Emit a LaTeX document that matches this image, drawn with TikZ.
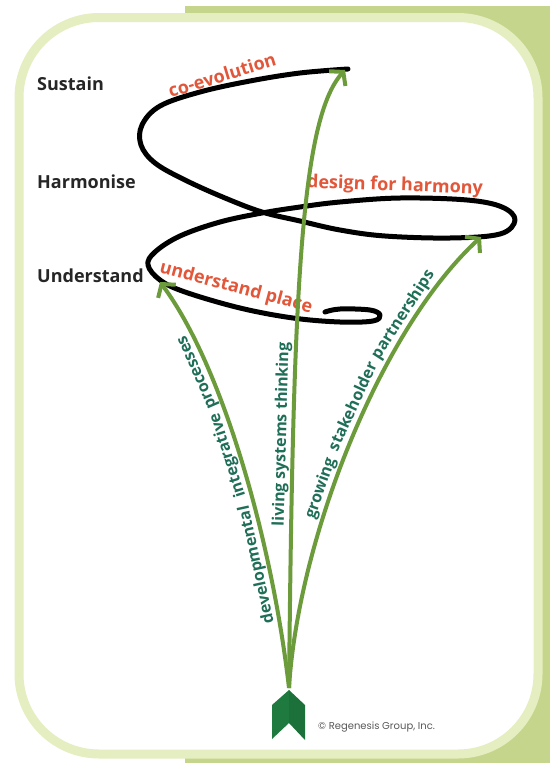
\documentclass[tikz,border=0pt]{standalone}
\usepackage{fontspec}
\setmainfont{Open Sans}
\newfontfamily\creditfont{Poppins}
\usepackage{xcolor}
\usetikzlibrary{arrows.meta}
\definecolor{band}{HTML}{C5D58C}
\definecolor{rim}{HTML}{E4EEC0}
\definecolor{shaft}{HTML}{6C9B3C}
\definecolor{pathlabel}{HTML}{1F6E57}
\definecolor{phase}{HTML}{E2563A}
\definecolor{feather}{HTML}{1E7A3E}

\begin{document}
\begin{tikzpicture}[x=1pt,y=-1pt]
\tikzset{stage/.style={anchor=west,inner sep=0pt,font=\bfseries\fontsize{18}{20}\selectfont,text=black!85}}
\tikzset{phase label/.style={inner sep=0pt,font=\bfseries\fontsize{18}{20}\selectfont,text=phase}}
\tikzset{path label/.style={sloped,allow upside down,anchor=south,inner sep=1pt,text height=12pt,text depth=4pt,font=\bfseries\fontsize{16}{18}\selectfont,text=pathlabel}}
\tikzset{spiral/.style={line width=5pt,line cap=round,line join=round}}
\tikzset{shoot/.style={draw=shaft,line width=4pt,-{Straight Barb[length=9pt,width=22pt]}}}

\useasboundingbox (0,0) rectangle (550,763);
\fill[band] (185,6) rectangle (550,763);
\draw[rim,line width=9pt,fill=white,rounded corners=80pt] (19,17.5) rectangle (538,754);

\node[stage] (sustain) at (37,84) {Sustain};
\node[stage] (harmonise) at (37,182) {Harmonise};
\node[stage] (understand) at (37,276) {Understand};

\draw[spiral] plot[smooth,tension=0.6] coordinates {(348,69) (300,73) (250,81) (200,92) (160,106) (142,125) (141,145) (155,163) (185,180) (225,198) (262,212) (300,221) (340,230) (385,236) (450,238) (500,234) (515,220) (502,207) (467,200) (400,198) (340,202) (300,207) (262,213) (220,222) (180,236) (155,252) (148,265) (160,280) (185,292) (240,308) (293,318) (340,322) (373,321) (380,315) (370,310) (340,309) (325,312)};

\node[phase label,rotate=17] (coevo) at (222,75) {co-evolution};
\node[phase label,rotate=-2] (design) at (395,186) {design for harmony};
\node[phase label,rotate=-15] (place) at (236,288) {understand place};

\fill[feather] (289,690) -- (272,705) -- (272,739) -- (289,723) -- cycle;
\fill[feather!92!black] (289,690) -- (305,705) -- (305,740) -- (289,723) -- cycle;

\coordinate (root) at (289,688);
\coordinate (tipL) at (160,282);
\coordinate (tipC) at (345,70);
\coordinate (tipR) at (481,237);
\draw[shoot] (root) .. controls (272,540) and (222,365) .. (tipL)
  node[path label,pos=0.275] (devA) {developmental}
  node[path label,pos=0.52] (devB) {integrative}
  node[path label,pos=0.728] (devC) {processes};
\draw[shoot] (root) .. controls (293,300) and (300,120) .. (tipC)
  node[path label,pos=0.25] (living) {living systems thinking};
\draw[shoot] (root) .. controls (298,540) and (380,330) .. (tipR)
  node[path label,pos=0.40] (growA) {growing}
  node[path label,pos=0.562] (growB) {stakeholder}
  node[path label,pos=0.762] (growC) {partnerships};

\node[anchor=west,inner sep=0pt,font=\creditfont\fontsize{10}{12}\selectfont,text=black!65] (credit) at (318,727) {© Regenesis Group, Inc.};
\end{tikzpicture}
\end{document}
